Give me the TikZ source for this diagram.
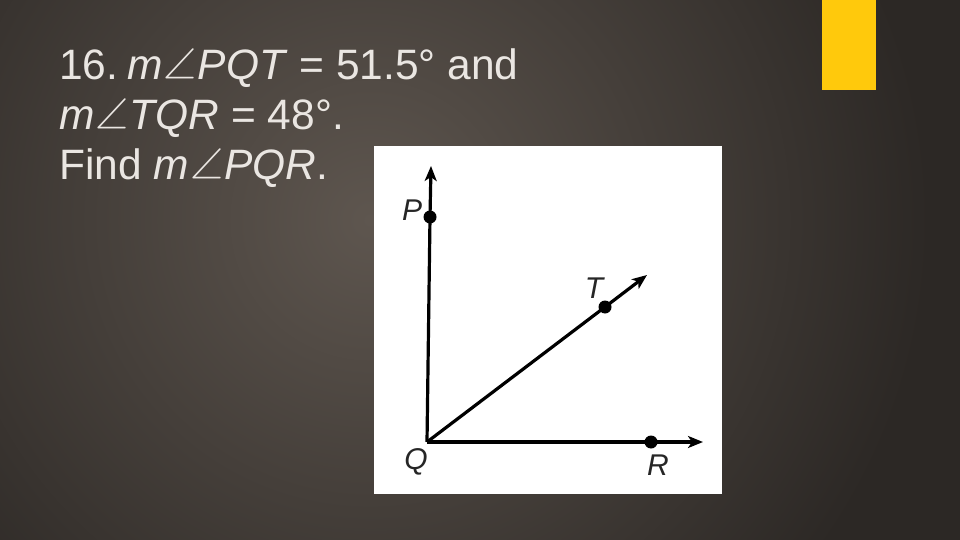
\documentclass[tikz,border=0pt]{standalone}
\usepackage{fontspec}
\setmainfont{Liberation Sans}
\newfontfamily\symfont{Latin Modern Math}
\usetikzlibrary{arrows.meta}
\definecolor{bgdark}{HTML}{2C2825}
\definecolor{bglight}{HTML}{5E564F}
\definecolor{txt}{HTML}{EAE6E2}
\definecolor{gold}{HTML}{FFC90C}
\tikzset{
  ray/.style={line width=3.2pt, -{Stealth[length=15pt,width=12pt,inset=4pt]}},
  seg/.style={line width=3.2pt},
  pt/.style={circle, fill=black, inner sep=0pt, minimum size=13pt},
  lbl/.style={font=\fontsize{30}{32}\selectfont\itshape, text=black!85, inner sep=0pt},
  head/.style={font=\fontsize{42.5}{46}\selectfont, text=txt, anchor=base west, inner sep=0pt}
}
\newcommand{\ang}{\kern1pt{\symfont\char"2220}\kern1pt}
\begin{document}
\begin{tikzpicture}[x=1pt,y=-1pt]
\useasboundingbox (0,0) rectangle (960,540);
\begin{scope}
\clip (0,0) rectangle (960,540);
\fill[bgdark] (0,0) rectangle (960,540);
\shade[inner color=bglight, outer color=bgdark] (370,220) circle (560);
\end{scope}
\fill[gold] (822,0) rectangle (876,90);
% text
\node[head] (l1) at (59,80) {16.\hspace{9pt}\textit{m}\ang\textit{PQT} = 51.5° and};
\node[head] (l2) at (59,130) {\textit{m}\ang\textit{TQR} = 48°.};
\node[head] (l3) at (59,179) {Find \textit{m}\ang\textit{PQR}.};
% diagram box
\fill[white] (374,146) rectangle (722,494);
\coordinate (Q) at (427,442);
\coordinate (Pend) at (431,166);
\coordinate (Tend) at (647,275);
\coordinate (Rend) at (703,442);
\node[pt] (P) at (430,217) {};
\node[pt] (T) at (605,307) {};
\node[pt] (R) at (651,442) {};
\draw[seg] (Q) -- (P.center);
\draw[ray] (P.center) -- (Pend);
\draw[seg] (Q) -- (T.center);
\draw[ray] (T.center) -- (Tend);
\draw[seg] (Q) -- (R.center);
\draw[ray] (R.center) -- (Rend);
\node[lbl] (Pl) at (412,210) {P};
\node[lbl] (Tl) at (594,288) {T};
\node[lbl] (Ql) at (416,462) {Q};
\node[lbl] (Rl) at (658,465) {R};
\end{tikzpicture}
\end{document}
